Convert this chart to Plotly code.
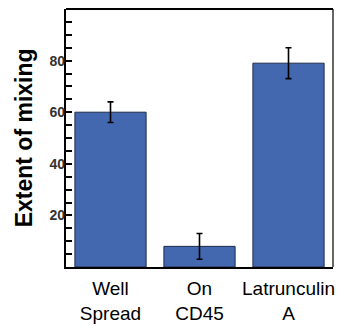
import plotly.graph_objects as go

# Extent of mixing for each condition (mean and error)
categories = ["Well<br>Spread", "On<br>CD45", "Latrunculin<br>A"]
mixing = [60, 8, 79]
mixing_err = [4, 5, 6]

y_tick_vals = [20, 40, 60, 80]
y_tick_text = ["<b>20</b>", "<b>40</b>", "<b>60</b>", "<b>80</b>"]

font_family = "Arial, Liberation Sans, sans-serif"

fig = go.Figure(
    go.Bar(
        x=categories,
        y=mixing,
        marker=dict(color="#4468B0", line=dict(color="#1E2B48", width=1)),
        error_y=dict(type="data", array=mixing_err, color="black",
                     thickness=1.6, width=3),
        width=0.8,
    )
)

fig.update_layout(
    width=339,
    height=328,
    margin=dict(l=66, r=4, t=9, b=47),
    plot_bgcolor="white",
    paper_bgcolor="white",
    showlegend=False,
    font=dict(family=font_family, color="black"),
)

fig.update_xaxes(
    showline=True, linecolor="black", linewidth=2.2,
    ticks="", showgrid=False,
    tickfont=dict(size=19, color="black"),
    ticklabelstandoff=3,
)

fig.update_yaxes(
    range=[0, 100],
    showline=True, linecolor="black", linewidth=2.2,
    showgrid=False, zeroline=False,
    tickvals=y_tick_vals, ticktext=y_tick_text,
    ticks="inside", ticklen=6, tickwidth=1.6, tickcolor="black",
    minor=dict(dtick=5, tick0=0, ticks="inside", ticklen=6,
               tickwidth=1.6, tickcolor="black"),
    tickfont=dict(size=14, color="#333333"),
    ticklabelstandoff=-4,
)

# y-axis title
fig.add_annotation(
    text="<b>Extent of mixing</b>", textangle=-90,
    xref="paper", yref="paper", x=-0.156, y=0.5,
    xanchor="center", yanchor="middle", showarrow=False,
    font=dict(size=23, color="black"),
)

# top and right frame lines
fig.add_shape(type="line", xref="paper", yref="paper", x0=0, x1=1, y0=1, y1=1,
              line=dict(color="black", width=2.2))
fig.add_shape(type="line", xref="paper", yref="paper", x0=1, x1=1, y0=0, y1=1,
              line=dict(color="black", width=1.2))

fig.write_html("out.html")
